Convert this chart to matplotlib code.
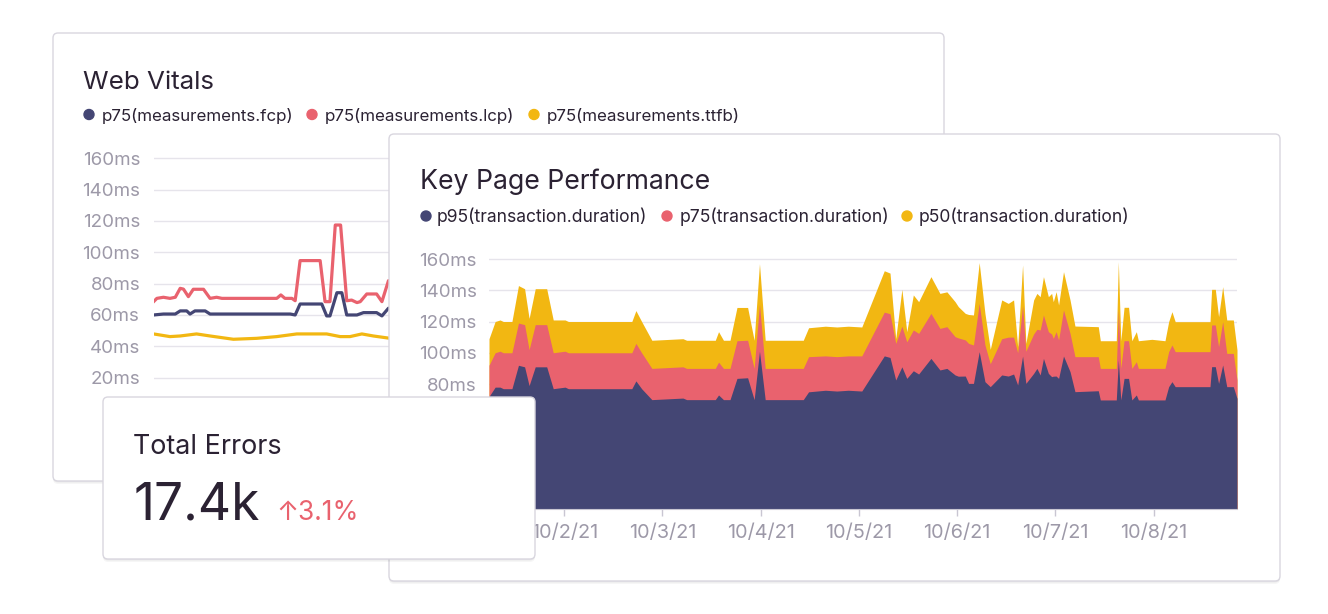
import numpy as np
import matplotlib.pyplot as plt
from matplotlib.patches import FancyBboxPatch, Circle

plt.rcParams['font.family'] = ['Inter', 'DejaVu Sans']

W, H = 1328, 614  # output size in pixels (dpi 100)

# ---- Web Vitals (lines), x = hours since 10/1/21 00:00
fcp_hours = [5.5, 7.9, 10.8, 12.0, 13.6, 14.4, 15.6, 18.1, 19.3, 38.9, 40.1, 41.3,
             46.6, 47.8, 48.6, 50.3, 51.5, 52.7, 55.2, 56.8, 60.0, 61.3, 62.9, 64.5]
fcp = [60, 60.6, 60.6, 62.6, 62.6, 60.6, 62.6, 62.6, 60.6, 60.6, 60, 67,
       67, 59.4, 59.4, 74.2, 74.2, 60, 60, 61.5, 61.5, 59.4, 64.3, 64.5]

lcp_hours = [5.5, 6.3, 7.9, 9.5, 10.8, 12.0, 12.8, 14.0, 15.2, 17.7, 19.3, 20.9, 22.2,
             35.6, 36.6, 37.6, 39.3, 40.1, 41.3, 46.2, 47.4, 48.6, 49.9, 51.2, 52.7,
             53.9, 55.2, 56.0, 57.6, 60.0, 61.3, 62.9, 64.5]
lcp = [68.5, 70.6, 71.3, 70.6, 71.3, 77, 76.5, 71.7, 76.4, 76.4, 70.6, 71.3, 70.6,
       70.6, 72.8, 70.6, 70.6, 69.1, 94.7, 94.7, 68.5, 68.5, 117.4, 117.4, 69.1,
       69.5, 67.9, 68.5, 73.4, 73.4, 68.5, 81.9, 82]

ttfb_hours = [5.5, 9.5, 12.0, 16.0, 19.3, 25.0, 30.7, 35.6, 40.5, 43.7, 47.8, 51.1,
              53.5, 56.4, 59.2, 63.3, 64.5]
ttfb = [47.9, 46.2, 46.6, 47.9, 46.6, 44.5, 45.1, 46.2, 47.9, 47.9, 47.9, 46.2,
        46.2, 47.9, 46.6, 45.1, 45]

# ---- Key Page Performance (stacked areas), levels as drawn
key_hours = [5.6, 7.1, 8.3, 9.1, 11.2, 12.8, 14.3, 15.4, 16.9, 19.7, 21.3, 24.2, 25.0,
             40.5, 41.5, 42.9, 45.4,
             53.0, 53.9, 60.9, 61.7, 62.9, 64.5, 66.2, 68.8, 70.4, 71.7, 73.1, 82.4,
             83.7, 87.8, 90.6, 93.4, 96.7,
             102.2, 103.6, 105.0, 106.5, 107.7, 109.3, 110.6, 113.6, 115.8, 117.5, 119.5,
             120.3, 122.0, 122.8, 124.0, 125.4, 126.8, 128.1, 130.9, 132.5, 133.8, 134.8,
             136.0, 136.8, 138.7, 139.5,
             140.3, 141.1, 142.3, 143.1, 143.5, 144.2, 144.8, 146.0, 147.6, 148.8, 154.5,
             155.0, 158.9, 159.4, 160.0, 160.8, 161.9, 162.7, 163.8, 164.3, 167.6, 170.8,
             171.7, 172.5, 173.3, 181.8, 182.2, 183.1, 183.9, 184.9, 185.9, 187.5, 188.4]
p95 = [72, 78, 78, 77, 77, 92, 91, 79, 91, 91, 77, 78, 77, 77, 82, 77, 70,
       71, 70, 70, 73, 70, 70, 83.6, 84, 70, 101, 70, 70, 75, 76, 75.5, 76, 75.5,
       98, 97, 82.6, 91, 83.6, 88.5, 86.4, 96.4, 89, 90, 85.8, 85, 85.1, 80.4, 80.4,
       100.7, 81.5, 78.3, 85.8, 85.1, 86.4, 79.4, 97.9, 80.4, 86.8, 90,
       85.8, 96.4, 86.8, 84.7, 85, 85.1, 83.6, 97.9, 87.9, 75.1, 75.7, 69.8, 69.8,
       95.4, 69.8, 83.6, 83.6, 69.8, 73, 69.8, 69.8, 69.8, 78.3, 81.5, 78.3, 78.3,
       91.1, 91.1, 80.4, 92.2, 78.3, 78.3, 70.8]
p75 = [92, 100, 101, 100, 100, 119, 118, 102, 118, 118, 100, 101, 100, 100, 106, 100, 90,
       91, 90, 90, 94, 90, 90, 107.7, 108, 90, 131, 90, 90, 97.5, 98, 97.5, 98, 98,
       126, 125, 106, 117, 107, 114.6, 112.4, 125.2, 115.6, 116.7, 110.3, 109.5, 108.2,
       106, 105, 131.6, 105, 93, 109, 110, 110, 100, 130, 101, 112, 115,
       114.6, 124.2, 113.5, 112, 109.2, 113.5, 108.2, 127.4, 112.4, 97.5, 97.5, 90, 90,
       127.4, 90, 107.7, 107.7, 90, 94.3, 90, 90, 90, 100.7, 105, 100.7, 100.7,
       117.8, 117.8, 103.9, 119.9, 99.6, 99.6, 82.6]
p50 = [109, 120, 121, 120, 120, 143, 141, 122, 141, 141, 121, 121, 120, 120, 127, 120, 108,
       109, 108, 108, 113.5, 108, 108, 129, 129, 108, 157, 108, 108, 116, 117, 116.5,
       117, 116.5,
       152.5, 151, 109, 140.6, 113.5, 137, 132.7, 148.7, 138, 139, 132.7, 129.5, 125.2,
       124.5, 124.2, 157.7, 125.2, 102.2, 133.8, 131.6, 133.8, 103.9, 156.2, 106, 133.8, 138,
       135.9, 148.7, 135.9, 138, 132.7, 139.1, 130.6, 151.9, 133.8, 117.1, 116.7, 107.7,
       107.7, 158.3, 107.7, 129.1, 129.1, 107.7, 113.5, 107.7, 108.6, 107.7, 119.9, 126.3,
       119.9, 119.9, 140.6, 140.6, 123.1, 142.3, 121, 121, 101.8]

day_ticks = [24, 48, 72, 96, 120, 144, 168]
day_labels = ['10/2/21', '10/3/21', '10/4/21', '10/5/21', '10/6/21', '10/7/21', '10/8/21']
ms_ticks = [20, 40, 60, 80, 100, 120, 140, 160]

web_legend = ['p75(measurements.fcp)', 'p75(measurements.lcp)', 'p75(measurements.ttfb)']
key_legend = ['p95(transaction.duration)', 'p75(transaction.duration)', 'p50(transaction.duration)']
total_errors = '17.4k'
change = '3.1%'

# colours
NAVY, RED, YELLOW = '#444674', '#e9626e', '#f2b712'
TEXT, GREY, GRID, BORDER = '#2b2233', '#9d99a8', '#e6e4eb', '#d9d6df'
X_RANGE = (5.6, 188.4)

fig = plt.figure(figsize=(W / 100, H / 100), dpi=100)


def rect(x0, y0, x1, y1):
    # pixel box (top-left origin) -> figure fraction
    return [x0 / W, 1 - y1 / H, (x1 - x0) / W, (y1 - y0) / H]


def card(x0, y0, x1, y1, z):
    for dy, a in [(3, 0.035), (1.5, 0.05)]:
        fig.add_artist(FancyBboxPatch((x0 / 100, (H - y1 - dy) / 100), (x1 - x0) / 100,
                                      (y1 - y0) / 100, boxstyle='round,pad=0,rounding_size=0.05',
                                      transform=fig.dpi_scale_trans, fc='black', ec='none',
                                      alpha=a, zorder=z - 0.1))
    fig.add_artist(FancyBboxPatch((x0 / 100, (H - y1) / 100), (x1 - x0) / 100, (y1 - y0) / 100,
                                  boxstyle='round,pad=0,rounding_size=0.05',
                                  transform=fig.dpi_scale_trans, fc='white', ec=BORDER,
                                  lw=1.0, zorder=z))


def text(x, y, s, z, **kw):
    fig.text(x / W, 1 - y / H, s, zorder=z, va='baseline', **kw)


def legend(items, colors, dots, starts, y, size, z):
    for s, c, dx, tx in zip(items, colors, dots, starts):
        fig.add_artist(Circle((dx / 100, (H - y) / 100), 0.05, transform=fig.dpi_scale_trans,
                              color=c, zorder=z))
        text(tx, y + 6, s, z, fontsize=size, color=TEXT)


def style_axes(ax):
    for sp in ax.spines.values():
        sp.set_visible(False)
    ax.set_facecolor('none')
    ax.set_xlim(*X_RANGE)
    ax.set_ylim(0, 170)
    ax.set_yticks(ms_ticks)
    ax.set_yticklabels([f'{v}ms' for v in ms_ticks])
    ax.yaxis.grid(True, color=GRID, lw=1)
    ax.set_axisbelow(True)
    ax.tick_params(axis='y', length=0, pad=10, labelsize=13.5, labelcolor=GREY)


# ---- Web Vitals card
card(53, 33, 944, 481, 1)
text(83, 89, 'Web Vitals', 1.5, fontsize=18.7, color=TEXT)
legend(web_legend, [NAVY, RED, YELLOW], [89, 312, 534], [102, 325, 547], 114.5, 12.2, 1.5)

ax1 = fig.add_axes(rect(154, 142.6, 902, 409))
ax1.set_zorder(1.2)
style_axes(ax1)
ax1.set_xticks([])
ax1.plot(ttfb_hours, ttfb, color=YELLOW, lw=2.3, solid_joinstyle='round')
ax1.plot(lcp_hours, lcp, color=RED, lw=2.3, solid_joinstyle='round')
ax1.plot(fcp_hours, fcp, color=NAVY, lw=2.3, solid_joinstyle='round')

# ---- Key Page Performance card
card(389, 134, 1280, 581, 3)
text(420, 189, 'Key Page Performance', 3.5, fontsize=19.2, color=TEXT)
legend(key_legend, [NAVY, RED, YELLOW], [426, 667, 907], [437, 680, 919], 216, 12.6, 3.5)

ax2 = fig.add_axes(rect(489, 243.4, 1237, 509))
ax2.set_zorder(3.2)
style_axes(ax2)
ax2.set_yticks([0] + ms_ticks)
ax2.set_yticklabels(['0ms'] + [f'{v}ms' for v in ms_ticks])
ax2.tick_params(axis='y', pad=9)
ax2.fill_between(key_hours, 0, p50, color=YELLOW, lw=0)
ax2.fill_between(key_hours, 0, p75, color=RED, lw=0)
ax2.fill_between(key_hours, 0, p95, color=NAVY, lw=0)
ax2.spines['bottom'].set_visible(True)
ax2.spines['bottom'].set_color('#c9c6d2')
ax2.set_xticks(day_ticks)
ax2.set_xticklabels(day_labels)
ax2.tick_params(axis='x', length=5, width=1, color='#c9c6d2', pad=6,
                labelsize=14.3, labelcolor=GREY)

# ---- Total Errors card
card(103, 397, 535, 559, 5)
text(133, 454, 'Total Errors', 5.5, fontsize=19.4, color=TEXT)
text(134, 520, total_errors, 5.5, fontsize=37, color=TEXT)
text(276, 520, '\u2191' + change, 5.5, fontsize=19, color=RED)

fig.savefig('out.png', dpi=100, facecolor='white')
